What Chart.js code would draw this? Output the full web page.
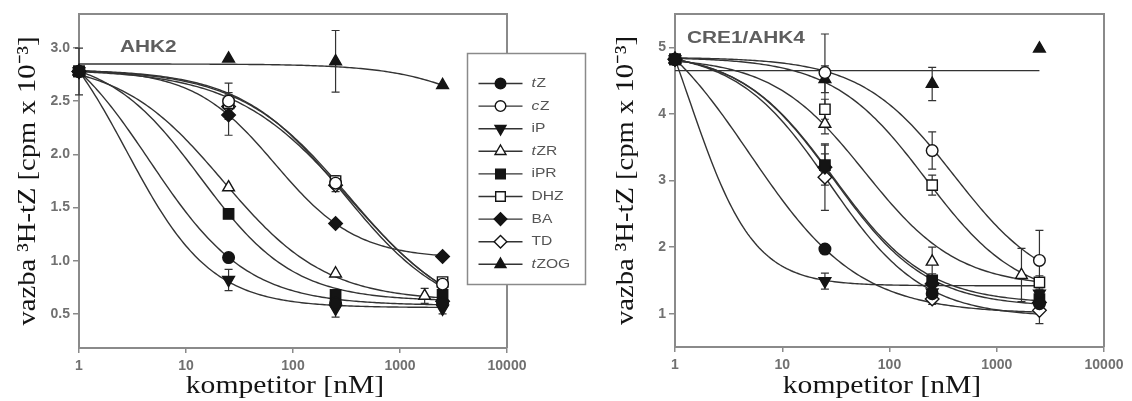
<!DOCTYPE html>
<html><head><meta charset="utf-8">
<script src="https://cdn.jsdelivr.net/npm/chart.js@4.4.1/dist/chart.umd.min.js"></script>
<style>
html,body{margin:0;padding:0;background:#fff;width:1132px;height:401px;overflow:hidden}
#c1{position:absolute;left:0;top:0}
#c2{position:absolute;left:560px;top:0}
</style></head><body>
<canvas id="c2" width="572" height="401"></canvas>
<canvas id="c1" width="600" height="401"></canvas>
<script>
// ---------- DATA ----------
const seriesNames = ['tZ','cZ','iP','tZR','iPR','DHZ','BA','TD','tZOG'];
const xTicks = [1, 10, 100, 1000, 10000];
const xConc = [1, 25, 250, 2500];
const xConcTZR = [1, 25, 250, 1700];
const ahk2Ticks = [0.5, 1.0, 1.5, 2.0, 2.5, 3.0];
const cre1Ticks = [1, 2, 3, 4, 5];

// AHK2 mean binding (cpm x 10^-3)
const ahk2_tZ   = [2.78, 1.03, 0.60, 0.60];
const ahk2_cZ   = [2.78, 2.50, 1.73, 0.78];
const ahk2_iP   = [2.78, 0.82, 0.55, 0.55];
const ahk2_tZR  = [2.78, 1.69, 0.88, 0.67];
const ahk2_iPR  = [2.78, 1.44, 0.68, 0.68];
const ahk2_DHZ  = [2.78, 2.48, 1.75, 0.80];
const ahk2_BA   = [2.78, 2.37, 1.35, 1.04];
const ahk2_TD   = [2.78, 2.45, 1.71, 0.62];
const ahk2_tZOG = [2.78, 2.90, 2.875, 2.65];
// AHK2 error (+/-)
const ahk2Err_tZ   = [0, 0, 0.05, 0.05];
const ahk2Err_cZ   = [0, 0.17, 0.05, 0.03];
const ahk2Err_iP   = [0.22, 0.10, 0.08, 0.05];
const ahk2Err_tZR  = [0, 0, 0, 0.07];
const ahk2Err_iPR  = [0, 0, 0.05, 0.05];
const ahk2Err_DHZ  = [0, 0.10, 0.05, 0.03];
const ahk2Err_BA   = [0, 0.19, 0, 0];
const ahk2Err_TD   = [0, 0.10, 0.06, 0.05];
const ahk2Err_tZOG = [0, 0, 0.29, 0];
// AHK2 fitted curve parameters (top, bottom, IC50 nM, Hill)
const ahk2FitTop    = [3.30, 2.80, 3.50, 2.88, 2.94, 2.80, 2.80, 2.80, 2.85];
const ahk2FitBottom = [0.58, 0.35, 0.56, 0.62, 0.62, 0.40, 1.02, 0.45, 2.00];
const ahk2FitIC50   = [4.57, 344, 2.79, 22.2, 13.7, 336, 68, 300, 8120];
const ahk2FitHill   = [0.95, 0.8, 1.1, 0.9, 1.0, 0.85, 1.14, 0.9, 1.0];

// CRE1/AHK4 mean binding
const cre1_tZ   = [4.82, 1.97, 1.30, 1.15];
const cre1_cZ   = [4.82, 4.62, 3.45, 1.80];
const cre1_iP   = [4.82, 1.49, 1.32, 1.30];
const cre1_tZR  = [4.82, 3.85, 1.78, 1.58];
const cre1_iPR  = [4.82, 3.23, 1.50, 1.22];
const cre1_DHZ  = [4.82, 4.07, 2.93, 1.47];
const cre1_BA   = [4.82, 3.20, 1.45, 1.17];
const cre1_TD   = [4.82, 3.05, 1.22, 1.05];
const cre1_tZOG = [4.82, 4.52, 4.45, 4.98];
// CRE1/AHK4 error (+/-)
const cre1Err_tZ   = [0, 0, 0.05, 0.05];
const cre1Err_cZ   = [0, 0.58, 0.28, 0.45];
const cre1Err_iP   = [0, 0.12, 0.05, 0.05];
const cre1Err_tZR  = [0, 0.15, 0.22, 0.40];
const cre1Err_iPR  = [0, 0.30, 0.10, 0.08];
const cre1Err_DHZ  = [0, 0.15, 0.15, 0.10];
const cre1Err_BA   = [0, 0.20, 0.08, 0.05];
const cre1Err_TD   = [0, 0.50, 0.08, 0.20];
const cre1Err_tZOG = [0, 0.20, 0.25, 0];
// CRE1/AHK4 fitted curve parameters
const cre1FitTop    = [5.80, 4.85, 7.00, 4.85, 4.94, 4.85, 4.94, 4.96, 4.65];
const cre1FitBottom = [1.00, 1.30, 1.42, 1.40, 1.15, 1.20, 1.10, 0.95, 4.65];
const cre1FitIC50   = [4.97, 400, 1.36, 59, 30, 218, 30.1, 27.5, 1000];
const cre1FitHill   = [0.85, 1.0, 1.45, 1.0, 1.0, 1.0, 1.0, 1.0, 1.0];
const curveXMax = 2500;

// ---------- STYLE ----------
const markerStyles = [
  {style:'circle', fill:true, r:5.8},
  {style:'circle', fill:false, r:5.8},
  {style:'triangle', fill:true, r:6.8, rot:180},
  {style:'triangle', fill:false, r:6.8},
  {style:'rect', fill:true, r:7.3},
  {style:'rect', fill:false, r:7.3},
  {style:'rectRot', fill:true, r:6.8},
  {style:'rectRot', fill:false, r:6.8},
  {style:'triangle', fill:true, r:6.8}
];
const legendParts = [['t','Z'],['c','Z'],['','iP'],['t','ZR'],['','iPR'],['','DHZ'],['','BA'],['','TD'],['t','ZOG']];
const AXIS = '#8a8a8a', TICKC = '#707070', INK = '#141414', CURVE = '#333';
const SANS = '"Liberation Sans", Arial, sans-serif';
const SERIF = '"Liberation Serif", "Times New Roman", serif';

function fourPL(x, T, B, c, h) { return B + (T - B) / (1 + Math.pow(x / c, h)); }
function fitCurve(T, B, c, h) {
  const pts = [], n = 160, lmax = Math.log10(curveXMax);
  for (let i = 0; i <= n; i++) { const x = Math.pow(10, lmax * i / n); pts.push({x, y: fourPL(x, T, B, c, h)}); }
  return pts;
}
function buildDatasets(vals, errs, T, B, C, H) {
  const marks = [], curves = [];
  seriesNames.forEach((name, i) => {
    const m = markerStyles[i];
    const xs = name === 'tZR' ? xConcTZR : xConc;
    marks.push({
      label: name, data: vals[i].map((v, j) => ({x: xs[j], y: v})), showLine: false,
      pointStyle: m.style, pointRotation: m.rot || 0, pointRadius: m.r, pointHoverRadius: m.r,
      pointBackgroundColor: m.fill ? INK : '#fff', pointBorderColor: INK, pointBorderWidth: 1.4,
      errors: errs[i], order: 0, clip: false
    });
    curves.push({
      label: name + ' fit', data: fitCurve(T[i], B[i], C[i], H[i]), showLine: true,
      pointRadius: 0, borderColor: CURVE, borderWidth: 1.4, fill: false, tension: 0, order: 1
    });
  });
  return curves.concat(marks);
}

const errorBars = {
  id: 'errorBars',
  beforeDatasetsDraw(chart) {
    const ctx = chart.ctx, ys = chart.scales.y, a = chart.chartArea;
    ctx.save();
    ctx.strokeStyle = AXIS; ctx.lineWidth = 2;
    ctx.beginPath(); ctx.moveTo(a.left, a.top); ctx.lineTo(a.right, a.top); ctx.lineTo(a.right, a.bottom); ctx.stroke();
    ctx.strokeStyle = '#333'; ctx.lineWidth = 1.2;
    chart.data.datasets.forEach((ds, i) => {
      if (!ds.errors) return;
      const meta = chart.getDatasetMeta(i);
      ds.errors.forEach((e, j) => {
        if (!e) return;
        const p = meta.data[j], v = ds.data[j].y;
        const y1 = ys.getPixelForValue(v + e), y2 = ys.getPixelForValue(v - e);
        ctx.beginPath();
        ctx.moveTo(p.x, y1); ctx.lineTo(p.x, y2);
        ctx.moveTo(p.x - 4, y1); ctx.lineTo(p.x + 4, y1);
        ctx.moveTo(p.x - 4, y2); ctx.lineTo(p.x + 4, y2);
        ctx.stroke();
      });
    });
    ctx.restore();
  }
};

function decor(opt) {
  return {
    id: 'decor',
    afterDraw(chart) {
      const ctx = chart.ctx, a = chart.chartArea;
      ctx.save();
      ctx.fillStyle = '#5e5e5e'; ctx.font = 'bold 16px ' + SANS; ctx.textBaseline = 'middle'; ctx.textAlign = 'left';
      ctx.save(); ctx.translate(opt.labelX, opt.labelY); ctx.scale(1.3, 1); ctx.fillText(opt.label, 0, 0); ctx.restore();
      ctx.fillStyle = INK; ctx.font = '26px ' + SERIF; ctx.textAlign = 'center'; ctx.textBaseline = 'middle';
      ctx.save(); ctx.translate(opt.yTitleX, (a.top + a.bottom) / 2); ctx.rotate(-Math.PI / 2); ctx.scale(1.1, 1);
      ctx.fillText('vazba \u00B3H-tZ [cpm x 10\u207B\u00B3]', 0, 0); ctx.restore();
      ctx.save(); ctx.translate(opt.xTitleX, 386); ctx.scale(1.14, 1);
      ctx.fillText('kompetitor [nM]', 0, 0); ctx.restore();
      if (opt.legend) {
        const L = opt.legend;
        ctx.fillStyle = '#fff'; ctx.strokeStyle = AXIS; ctx.lineWidth = 1.5;
        ctx.fillRect(L.x, L.y, L.w, L.h); ctx.strokeRect(L.x, L.y, L.w, L.h);
        seriesNames.forEach((name, i) => {
          const y = L.y + 30 + i * 22.6, m = markerStyles[i];
          ctx.strokeStyle = CURVE; ctx.lineWidth = 1.4;
          ctx.beginPath(); ctx.moveTo(L.x + 11, y); ctx.lineTo(L.x + 55, y); ctx.stroke();
          ctx.fillStyle = m.fill ? INK : '#fff'; ctx.strokeStyle = INK; ctx.lineWidth = 1.4;
          Chart.helpers.drawPoint(ctx, {pointStyle: m.style, rotation: m.rot || 0, radius: m.r - 0.5, borderWidth: 1.4}, L.x + 33, y);
          ctx.fillStyle = '#555'; ctx.textAlign = 'left'; ctx.textBaseline = 'middle';
          ctx.save(); ctx.translate(L.x + 64, y); ctx.scale(1.2, 1);
          const [pre, rest] = legendParts[i];
          let dx = 0;
          if (pre) { ctx.font = 'italic 13px ' + SANS; ctx.fillText(pre, 0, 0); dx = ctx.measureText(pre).width + 0.5; }
          ctx.font = '13px ' + SANS; ctx.fillText(rest, dx, 0);
          ctx.restore();
        });
      }
      ctx.restore();
    }
  };
}

function scalesFor(ymin, ymax, yTicks, yFmt, yWidth, xHeight) {
  return {
    x: {
      type: 'logarithmic', min: 1, max: 10000,
      afterBuildTicks: s => { s.ticks = xTicks.map(v => ({value: v})); },
      ticks: {callback: v => String(v), font: {family: SANS, size: 14, weight: 'bold'}, color: TICKC, padding: 5, maxRotation: 0, autoSkip: false},
      grid: {drawOnChartArea: false, drawTicks: true, tickLength: 5, color: AXIS, lineWidth: 1.5},
      border: {color: AXIS, width: 2},
      afterFit: s => { s.height = xHeight; }
    },
    y: {
      type: 'linear', min: ymin, max: ymax,
      afterBuildTicks: s => { s.ticks = yTicks.map(v => ({value: v})); },
      ticks: {callback: yFmt, font: {family: SANS, size: 14, weight: 'bold'}, color: TICKC, padding: 3},
      grid: {drawOnChartArea: false, drawTicks: true, tickLength: 6, color: AXIS, lineWidth: 1.5},
      border: {color: AXIS, width: 2},
      afterFit: s => { s.width = yWidth; }
    }
  };
}

const common = {
  responsive: false, animation: false, devicePixelRatio: 1,
  plugins: {legend: {display: false}, tooltip: {enabled: false}},
  events: []
};

new Chart(document.getElementById('c1'), {
  type: 'scatter',
  data: {datasets: buildDatasets(
    [ahk2_tZ, ahk2_cZ, ahk2_iP, ahk2_tZR, ahk2_iPR, ahk2_DHZ, ahk2_BA, ahk2_TD, ahk2_tZOG],
    [ahk2Err_tZ, ahk2Err_cZ, ahk2Err_iP, ahk2Err_tZR, ahk2Err_iPR, ahk2Err_DHZ, ahk2Err_BA, ahk2Err_TD, ahk2Err_tZOG],
    ahk2FitTop, ahk2FitBottom, ahk2FitIC50, ahk2FitHill)},
  options: Object.assign({}, common, {
    layout: {padding: {left: 0, top: 14, right: 93, bottom: 0}},
    scales: scalesFor(0.18, 3.32, ahk2Ticks, v => Number(v).toFixed(1), 79, 53)
  }),
  plugins: [errorBars, decor({label: 'AHK2', labelX: 120, labelY: 47.5, yTitleX: 28, xTitleX: 285,
    legend: {x: 467.5, y: 53.5, w: 118, h: 231}})]
});

new Chart(document.getElementById('c2'), {
  type: 'scatter',
  data: {datasets: buildDatasets(
    [cre1_tZ, cre1_cZ, cre1_iP, cre1_tZR, cre1_iPR, cre1_DHZ, cre1_BA, cre1_TD, cre1_tZOG],
    [cre1Err_tZ, cre1Err_cZ, cre1Err_iP, cre1Err_tZR, cre1Err_iPR, cre1Err_DHZ, cre1Err_BA, cre1Err_TD, cre1Err_tZOG],
    cre1FitTop, cre1FitBottom, cre1FitIC50, cre1FitHill)},
  options: Object.assign({}, common, {
    layout: {padding: {left: 0, top: 14, right: 28, bottom: 0}},
    scales: scalesFor(0.5, 5.5, cre1Ticks, v => String(v), 115, 54)
  }),
  plugins: [errorBars, decor({label: 'CRE1/AHK4', labelX: 127, labelY: 38.5, yTitleX: 66, xTitleX: 322})]
});
</script>
</body></html>
